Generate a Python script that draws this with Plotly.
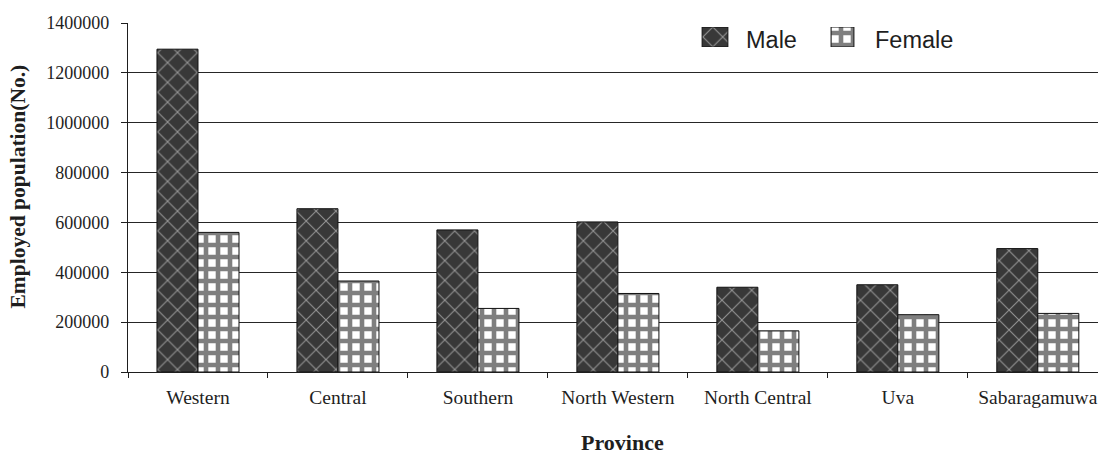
import plotly.graph_objects as go

# Employed population by province and sex
provinces = ["Western", "Central", "Southern", "North Western",
             "North Central", "Uva", "Sabaragamuwa"]
male = [1295000, 655000, 570000, 602000, 340000, 350000, 495000]
female = [560000, 365000, 255000, 315000, 165000, 230000, 235000]

y_ticks = [0, 200000, 400000, 600000, 800000, 1000000, 1200000, 1400000]

serif = "Liberation Serif"
sans = "Liberation Sans"
ink = "#1e1e1e"

male_marker = dict(
    color="#383838",
    line=dict(color="#111111", width=1),
    pattern=dict(shape="x", fgcolor="#f0f0f0", bgcolor="#383838",
                 size=14, solidity=0.15),
)
female_marker = dict(
    color="#ffffff",
    line=dict(color="#111111", width=1),
    pattern=dict(shape="+", fgcolor="#000000", bgcolor="#ffffff",
                 size=12, solidity=0.62),
)

fig = go.Figure()
fig.add_trace(go.Bar(name="Male", x=provinces, y=male,
                     marker=male_marker, showlegend=False))
fig.add_trace(go.Bar(name="Female", x=provinces, y=female,
                     marker=female_marker, showlegend=False))

# pixel helpers for the 970 x 349 plot area (left 128, bottom 372)
W = 970.0
H = 349.0
def px_x(p):
    return (p - 128) / W
def px_y(p):
    return (372 - p) / H

# Legend keys: one full-size swatch per series in its own small axis pair
legend_keys = [("Male", male_marker, "2", (693, 737), 744),
               ("Female", female_marker, "3", (823, 862), 873)]
for name, mk, ax, (x0, x1), tx in legend_keys:
    fig.add_trace(go.Bar(x=[name], y=[1], marker=mk, showlegend=False,
                         hoverinfo="skip", xaxis="x" + ax, yaxis="y" + ax))
    fig.layout["xaxis" + ax] = dict(domain=[px_x(x0), px_x(x1)], anchor="y" + ax,
                                    visible=False, range=[-0.5, 0.5], fixedrange=True)
    fig.layout["yaxis" + ax] = dict(domain=[px_y(47), px_y(27)], anchor="x" + ax,
                                    visible=False, range=[0, 1], fixedrange=True)
    fig.add_annotation(text=name, xref="paper", yref="paper",
                       x=px_x(tx), y=px_y(40), xanchor="left", yanchor="middle",
                       showarrow=False, font=dict(family=sans, size=23.5, color=ink))

fig.update_layout(
    width=1098, height=454,
    margin=dict(l=128, r=0, t=23, b=82),
    paper_bgcolor="white", plot_bgcolor="white",
    barmode="group", bargap=0.414, bargroupgap=0,
    font=dict(family=serif, color=ink),
    xaxis=dict(
        domain=[0, 1],
        range=[-0.5, 6.43],
        showline=True, linecolor=ink, linewidth=1.3,
        ticks="outside", tickson="boundaries", ticklen=5, tickcolor=ink,
        tickfont=dict(family=serif, size=19.5, color=ink),
        ticklabelstandoff=7,
        showgrid=False,
    ),
    yaxis=dict(
        domain=[0, 1],
        range=[0, 1400000],
        tickvals=y_ticks, ticktext=[str(v) for v in y_ticks],
        showline=True, linecolor=ink, linewidth=1.3,
        ticks="outside", ticklen=6, tickcolor=ink,
        tickfont=dict(family=serif, size=18, color=ink),
        ticklabelstandoff=8,
        showgrid=True, gridcolor="#262626", gridwidth=1.4,
        zeroline=False,
    ),
)

fig.add_annotation(
    text="<b>Employed population(No.)</b>", textangle=-90,
    xref="paper", yref="paper", x=px_x(18), y=px_y(186.5),
    xanchor="center", yanchor="middle", showarrow=False,
    font=dict(family=serif, size=21.5, color=ink),
)
fig.add_annotation(
    text="<b>Province</b>",
    xref="paper", yref="paper", x=px_x(622), y=px_y(442),
    xanchor="center", yanchor="middle", showarrow=False,
    font=dict(family=serif, size=22, color=ink),
)

fig.write_html("out.html")
